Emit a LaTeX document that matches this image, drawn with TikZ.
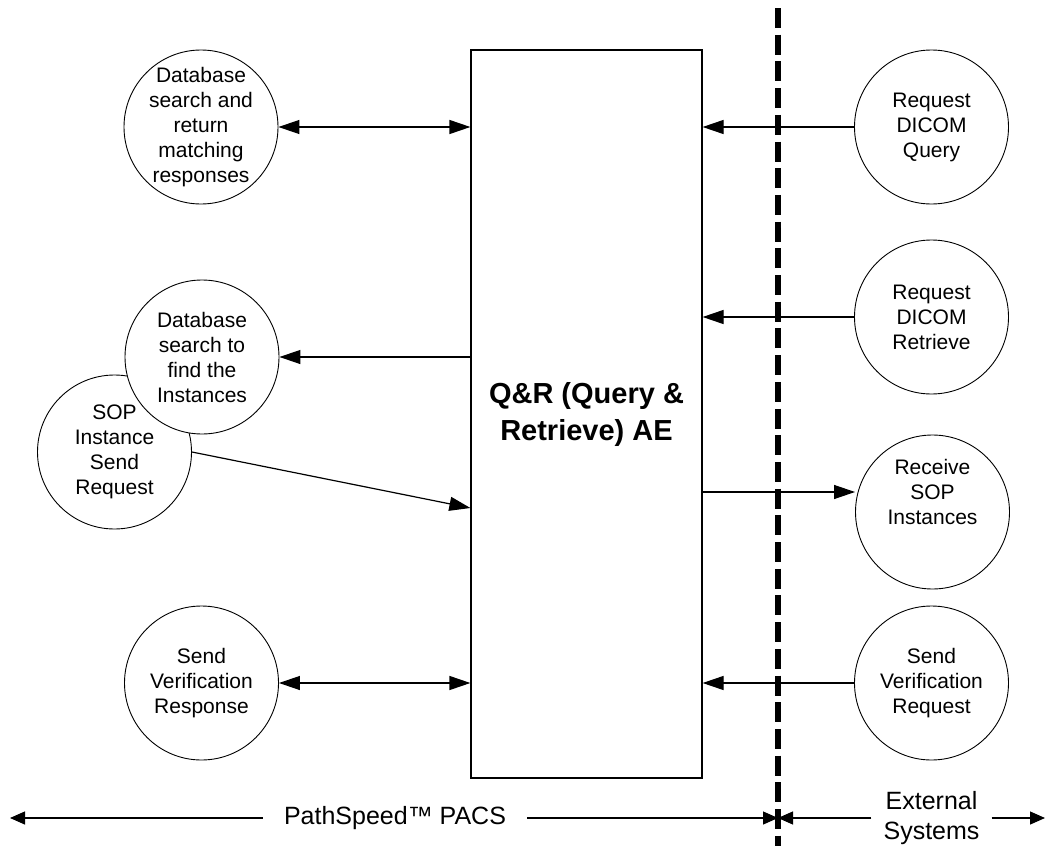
\documentclass[tikz,border=0pt]{standalone}
\usepackage{fontspec}
\setmainfont{Liberation Sans}
\usetikzlibrary{arrows.meta}
\begin{document}
\begin{tikzpicture}[x=1pt,y=-1pt,
  circ/.style={draw=black,line width=0.9pt,circle,minimum size=154pt,inner sep=0pt,fill=white},
  ctext/.style={align=center,font=\fontsize{21}{25}\selectfont,inner sep=0pt},
  conn/.style={line width=1.2pt},
  tip/.style={-{Triangle[length=21pt,width=14pt]}},
  both/.style={{Triangle[length=21pt,width=14pt]}-{Triangle[length=21pt,width=14pt]}},
  btip/.style={-{Triangle[length=15pt,width=13pt]}},
  blabel/.style={align=center,font=\fontsize{25}{30}\selectfont}
]
\useasboundingbox (0,0) rectangle (1045,846);

% central box
\node[draw,line width=1.2pt,minimum width=231pt,minimum height=728pt,inner sep=0pt] (q) at (586.5,414) {};
\node[align=center,font=\fontsize{29}{37}\selectfont\bfseries] (qt) at (586.5,414) {Q\&R (Query \&\\Retrieve) AE};

% left circles
\node[circ] (d1) at (201,127) {};
\node[ctext] at (201,127) {Database\\search and\\return\\matching\\responses};

\node[circ] (sop) at (114.5,452) {};
\node[ctext] at (114.5,452) {SOP\\Instance\\Send\\Request};

\node[circ] (d2) at (202,357) {};
\node[ctext] at (202,357) {Database\\search to\\find the\\Instances};

\node[circ] (sv) at (201.5,683) {};
\node[ctext] at (201.5,683) {Send\\Verification\\Response};

% right circles
\node[circ] (r1) at (931.5,127) {};
\node[ctext] at (931.5,127) {Request\\DICOM\\Query};

\node[circ] (r2) at (931.5,317) {};
\node[ctext] at (931.5,317) {Request\\DICOM\\Retrieve};

\node[circ] (rcv) at (932.5,512) {};
\node[ctext] at (932.5,492) {Receive\\SOP\\Instances};

\node[circ] (r4) at (931.5,683) {};
\node[ctext] at (931.5,683) {Send\\Verification\\Request};

% dashed boundary
\coordinate (bt) at (778,8);
\coordinate (bb) at (778,846);
\draw[line width=6pt,dash pattern=on 20pt off 6.7pt] (bt) -- (bb);

% connectors left
\draw[conn,both] (d1.east) -- (d1 -| q.west);
\draw[conn,tip] (d2 -| q.west) -- (d2.east);
\coordinate (sopin) at ([yshift=-94pt]q.west);
\draw[conn,tip] (sop.east) -- (sopin);
\draw[conn,both] (sv.east) -- (sv -| q.west);

% connectors right
\draw[conn,tip] (r1.west) -- (r1 -| q.east);
\draw[conn,tip] (r2.west) -- (r2 -| q.east);
\coordinate (rcvout) at ([yshift=-78pt]q.east);
\draw[conn,tip] (rcvout) -- (rcvout -| rcv.west);
\draw[conn,tip] (r4.west) -- (r4 -| q.east);

% bottom scale
\coordinate (L) at (10,818);
\coordinate (M) at (778,818);
\coordinate (R) at (1045,818);
\node[blabel,inner xsep=21pt,inner ysep=0pt] (ps) at (395,818) {PathSpeed™ PACS};
\node[blabel,inner xsep=12pt,inner ysep=0pt] (ext) at (931.5,818) {External\\Systems};
\draw[conn,btip] (ps.west) -- (L);
\draw[conn,btip] (ps.east) -- (M);
\draw[conn,btip] (ext.west) -- (M);
\draw[conn,btip] (ext.east) -- (R);
\end{tikzpicture}
\end{document}
